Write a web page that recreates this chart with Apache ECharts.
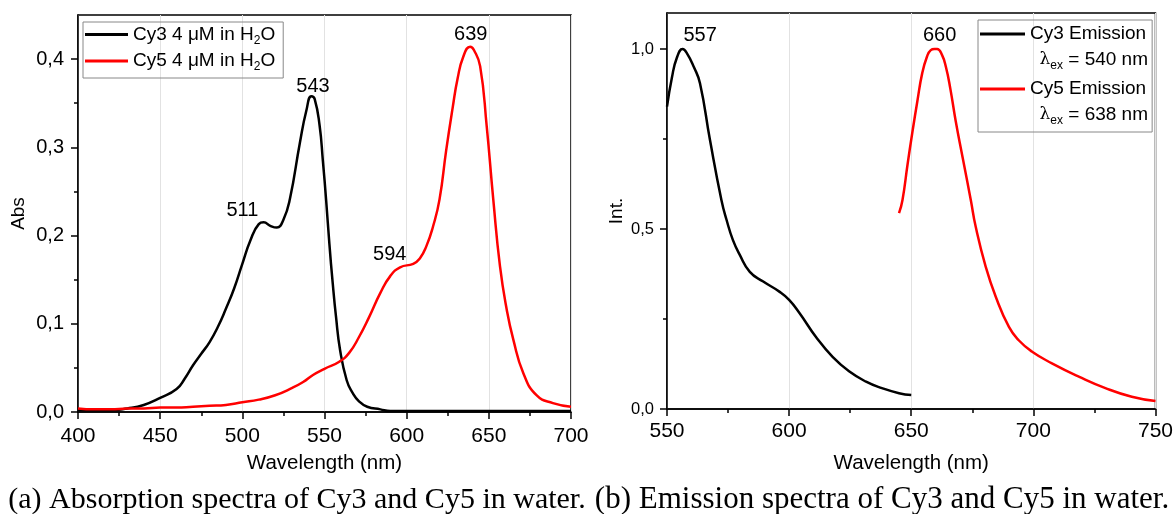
<!DOCTYPE html>
<html>
<head>
<meta charset="utf-8">
<script src="https://cdn.jsdelivr.net/npm/echarts@6/dist/echarts.min.js"></script>
<style>
  html, body { margin: 0; padding: 0; background: #fff; }
  #chart { width: 1176px; height: 514px; }
</style>
</head>
<body>
<div id="chart"></div>
<script>
// absorption (left panel)
const cy3AbsWl = [400, 410, 420, 430, 440, 450, 460, 465, 470, 475, 480, 485, 490, 495, 500, 505, 510, 513, 517, 521, 525, 529, 535, 539, 542, 544, 547, 549, 551, 553, 555, 557, 559.5, 563.5, 567, 571, 576, 584, 590, 620, 650, 700];
const cy3Abs = [0.002, 0.002, 0.002, 0.004, 0.008, 0.016, 0.026, 0.038, 0.053, 0.066, 0.079, 0.096, 0.117, 0.140, 0.168, 0.195, 0.213, 0.215, 0.211, 0.209, 0.218, 0.242, 0.305, 0.342, 0.358, 0.355, 0.325, 0.285, 0.240, 0.190, 0.146, 0.108, 0.070, 0.036, 0.022, 0.012, 0.006, 0.003, 0.001, 0.001, 0.001, 0.001];
const cy5AbsWl = [400, 410, 420, 430, 440, 450, 460, 470, 480, 490, 500, 510, 520, 530, 537, 543, 550, 559, 565, 571, 577, 584, 590, 596, 604, 608, 612, 616, 620, 624, 628, 631, 634.5, 638.6, 641, 644.7, 648.7, 652.7, 656.8, 660.9, 664.9, 671, 679, 689, 700];
const cy5Abs = [0.004, 0.003, 0.003, 0.004, 0.004, 0.005, 0.005, 0.006, 0.007, 0.008, 0.011, 0.014, 0.019, 0.027, 0.034, 0.042, 0.049, 0.057, 0.067, 0.085, 0.107, 0.135, 0.154, 0.164, 0.168, 0.174, 0.188, 0.210, 0.241, 0.296, 0.345, 0.378, 0.403, 0.414, 0.410, 0.392, 0.324, 0.241, 0.165, 0.116, 0.082, 0.044, 0.019, 0.010, 0.006];

// emission (right panel)
const cy3EmWl = [550, 552, 554, 556.4, 558, 561, 563.5, 567.6, 572.3, 574.4, 577, 579.8, 583.9, 589.4, 596, 600, 604.3, 611, 617.8, 624.7, 631.5, 638, 645, 650];
const cy3Em = [0.84, 0.92, 0.975, 1.0, 0.99, 0.95, 0.905, 0.747, 0.58, 0.525, 0.469, 0.428, 0.381, 0.354, 0.326, 0.303, 0.266, 0.20, 0.145, 0.104, 0.076, 0.058, 0.044, 0.039];
const cy5EmWl = [645, 646.4, 648.5, 650.4, 652.5, 654.5, 656.5, 658, 659.5, 660.6, 662.5, 664.2, 666, 668.2, 671, 674.4, 676.4, 680.5, 684.6, 690, 694, 699.5, 707.6, 718.6, 729.5, 740.3, 750];
const cy5Em = [0.544, 0.58, 0.68, 0.766, 0.855, 0.933, 0.98, 0.997, 1.0, 1.0, 0.985, 0.95, 0.89, 0.80, 0.70, 0.58, 0.506, 0.395, 0.312, 0.228, 0.191, 0.159, 0.127, 0.09, 0.058, 0.034, 0.022];

// y ticks
const absTicks = [0, 0.1, 0.2, 0.3, 0.4];
const absMinor = [0.05, 0.15, 0.25, 0.35];
const intTicks = [0, 0.5, 1.0];
const intMinor = [0.25, 0.75];

const captions = ['(a) Absorption spectra of Cy3 and Cy5 in water.', '(b) Emission spectra of Cy3 and Cy5 in water.'];

const zip = (xs, ys) => xs.map((x, i) => [x, ys[i]]);
const comma = v => v.toFixed(1).replace('.', ',');
const SANS = 'Liberation Sans, Arial, sans-serif';
const SERIF = 'Liberation Serif, Times New Roman, serif';

const chart = echarts.init(document.getElementById('chart'));

function xAx(idx, min, max, gap, margin) {
  return {
    gridIndex: idx, type: 'value', min: min, max: max, interval: 50,
    name: 'Wavelength (nm)', nameLocation: 'middle', nameGap: gap,
    nameTextStyle: { fontFamily: SANS, fontSize: 20.5, color: '#000' },
    axisLine: { lineStyle: { color: '#000', width: 1.5 } },
    axisTick: { inside: false, length: 7, lineStyle: { color: '#000', width: 1.5 } },
    minorTick: { show: true, splitNumber: 2, length: 4, lineStyle: { color: '#000', width: 1.5 } },
    axisLabel: { fontFamily: SANS, fontSize: 21, color: '#000', margin: margin },
    splitLine: { show: true, lineStyle: { color: '#e2e2e2', width: 1 } }
  };
}

function yAx(idx, max, ticks, name, gap, fs, margin) {
  return {
    gridIndex: idx, type: 'value', min: 0, max: max, position: 'left',
    name: name, nameLocation: 'middle', nameGap: gap,
    nameTextStyle: { fontFamily: SANS, fontSize: 19, color: '#000' },
    axisLine: { lineStyle: { color: '#000', width: 1.5 } },
    axisTick: { inside: false, length: 7, customValues: ticks, lineStyle: { color: '#000', width: 1.5 } },
    axisLabel: { fontFamily: SANS, fontSize: fs, color: '#000', margin: margin, formatter: comma, customValues: ticks },
    splitLine: { show: false }
  };
}

// second axis on the same side, only for the short minor ticks
function yMinor(idx, max, ticks) {
  return {
    gridIndex: idx, type: 'value', min: 0, max: max, position: 'left',
    axisLine: { show: false },
    axisTick: { inside: false, length: 4, customValues: ticks, lineStyle: { color: '#000', width: 1.5 } },
    axisLabel: { show: false },
    splitLine: { show: false }
  };
}

const peakLabel = { show: true, fontFamily: SANS, fontSize: 20, color: '#000' };
function peak(x, y, dx, dy) {
  return { coord: [x, y], symbolSize: 0, label: Object.assign({ offset: [dx, dy], formatter: String(Math.round(x)) }, peakLabel) };
}

const lamRich = {
  l: { fontFamily: 'DejaVu Serif, serif', fontSize: 17, lineHeight: 24 },
  e: { fontFamily: SANS, fontSize: 12, lineHeight: 12, verticalAlign: 'bottom' },
  t: { fontFamily: SANS, fontSize: 19, lineHeight: 24 }
};

const option = {
  animation: false,
  backgroundColor: '#fff',
  title: [
    { text: captions[0], left: 292, top: 480, textAlign: 'center',
      textStyle: { fontFamily: SERIF, fontSize: 30, fontWeight: 'normal', color: '#000' } },
    { text: captions[1], left: 877, top: 479, textAlign: 'center',
      textStyle: { fontFamily: SERIF, fontSize: 31, fontWeight: 'normal', color: '#000' } }
  ],
  grid: [
    { left: 78, top: 15, right: 605, bottom: 102, show: true, borderColor: '#000', borderWidth: 1.5 },
    { left: 667, top: 13, right: 19, bottom: 105, show: true, borderColor: '#000', borderWidth: 1.5 }
  ],
  xAxis: [xAx(0, 400, 700, 41, 14), xAx(1, 550, 750, 44, 12)],
  yAxis: [
    yAx(0, 0.45, absTicks, 'Abs', 50, 20, 14),
    yAx(1, 1.1, intTicks, 'Int.', 41, 16.5, 13),
    yMinor(0, 0.45, absMinor),
    yMinor(1, 1.1, intMinor)
  ],
  legend: [
    {
      orient: 'vertical', left: 83, top: 22, padding: [3, 8, 5, 2], itemGap: 5,
      itemWidth: 43, itemHeight: 3, icon: 'rect',
      borderColor: '#888', borderWidth: 1,
      data: ['Cy3 Abs', 'Cy5 Abs'],
      formatter: n => n === 'Cy3 Abs' ? '{t|Cy3 4 μM in H}{s|2}{t|O}' : '{t|Cy5 4 μM in H}{s|2}{t|O}',
      textStyle: {
        color: '#000',
        rich: {
          t: { fontFamily: SANS, fontSize: 19, lineHeight: 24, color: '#000' },
          s: { fontFamily: SANS, fontSize: 12, lineHeight: 12, verticalAlign: 'bottom', color: '#000' }
        }
      }
    },
    {
      orient: 'vertical', left: 978, top: 20, padding: [4, 6, 33, 2], itemGap: 35,
      itemWidth: 45, itemHeight: 3, icon: 'rect',
      borderColor: '#888', borderWidth: 1,
      data: ['Cy3 Emission', 'Cy5 Emission'],
      textStyle: { fontFamily: SANS, fontSize: 19, lineHeight: 20, color: '#000' }
    }
  ],
  graphic: [
    { type: 'text', right: 28, top: 50, z: 100, style: { text: '{l|λ}{e|ex}{t| = 540 nm}', rich: lamRich } },
    { type: 'text', right: 28, top: 105, z: 100, style: { text: '{l|λ}{e|ex}{t| = 638 nm}', rich: lamRich } }
  ],
  series: [
    {
      name: 'Cy3 Abs', type: 'line', xAxisIndex: 0, yAxisIndex: 0,
      data: zip(cy3AbsWl, cy3Abs), smooth: 0.5, showSymbol: false, symbol: 'none',
      lineStyle: { color: '#000', width: 2.5 }, itemStyle: { color: '#000' },
      markPoint: { symbol: 'circle', data: [peak(543, 0.358, 0, -10), peak(511, 0.215, -18, -12)] }
    },
    {
      name: 'Cy5 Abs', type: 'line', xAxisIndex: 0, yAxisIndex: 0,
      data: zip(cy5AbsWl, cy5Abs), smooth: 0.5, showSymbol: false, symbol: 'none',
      lineStyle: { color: '#f00', width: 2.5 }, itemStyle: { color: '#f00' },
      markPoint: { symbol: 'circle', data: [peak(639, 0.414, 0, -12), peak(594, 0.164, -7, -13)] }
    },
    {
      name: 'Cy3 Emission', type: 'line', xAxisIndex: 1, yAxisIndex: 1,
      data: zip(cy3EmWl, cy3Em), smooth: 0.5, showSymbol: false, symbol: 'none',
      lineStyle: { color: '#000', width: 2.5 }, itemStyle: { color: '#000' },
      markPoint: { symbol: 'circle', data: [peak(557, 1.0, 16, -14)] }
    },
    {
      name: 'Cy5 Emission', type: 'line', xAxisIndex: 1, yAxisIndex: 1,
      data: zip(cy5EmWl, cy5Em), smooth: 0.5, showSymbol: false, symbol: 'none',
      lineStyle: { color: '#f00', width: 2.5 }, itemStyle: { color: '#f00' },
      markPoint: { symbol: 'circle', data: [peak(660, 1.0, 4, -14)] }
    }
  ]
};

chart.setOption(option);
</script>
</body>
</html>
